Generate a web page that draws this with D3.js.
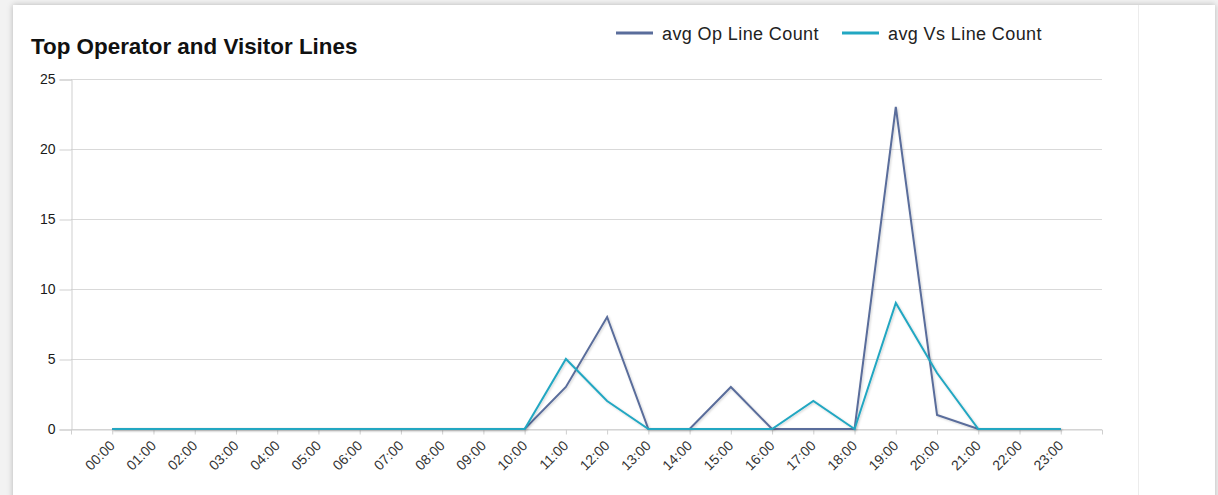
<!DOCTYPE html>
<html>
<head>
<meta charset="utf-8">
<script src="https://cdn.jsdelivr.net/npm/d3@7"></script>
<style>
  html, body { margin: 0; padding: 0; background: #f2f2f2; overflow: hidden; }
  #panel {
    position: absolute; left: 13px; top: 5px; width: 1202px; height: 520px;
    background: #fff; box-shadow: 0 0 6px rgba(0,0,0,0.25);
  }
  #chart { position: absolute; left: 0; top: 0; }
</style>
</head>
<body>
<div id="panel"></div>
<div id="chart"></div>
<script>
const hours = ["00:00","01:00","02:00","03:00","04:00","05:00","06:00","07:00","08:00","09:00","10:00","11:00",
               "12:00","13:00","14:00","15:00","16:00","17:00","18:00","19:00","20:00","21:00","22:00","23:00"];
const opCounts = [0,0,0,0,0,0,0,0,0,0,0,3,8,0,0,3,0,0,0,23,1,0,0,0];
const vsCounts = [0,0,0,0,0,0,0,0,0,0,0,5,2,0,0,0,0,2,0,9,4,0,0,0];
const yTicks = [0,5,10,15,20,25];
const seriesNames = ["avg Op Line Count", "avg Vs Line Count"];
const seriesColors = ["#5a6d9b", "#22a7c2"];

const W = 1218, H = 495;
const plot = { left: 71, right: 1102, top: 79, bottom: 429 };

const svg = d3.select("#chart").append("svg")
    .attr("width", W)
    .attr("height", H)
    .style("font-family", "'Liberation Sans', Arial, sans-serif");

// faint divider on the right of the panel
svg.append("line")
    .attr("x1", 1138.5).attr("x2", 1138.5)
    .attr("y1", 5).attr("y2", H)
    .attr("stroke", "#ececec");

const defs = svg.append("defs");
const f = defs.append("filter").attr("id", "shadow")
    .attr("x", "-5%").attr("y", "-5%").attr("width", "110%").attr("height", "110%");
f.append("feDropShadow").attr("dx", 1).attr("dy", 1).attr("stdDeviation", 0.8)
    .attr("flood-color", "#000").attr("flood-opacity", 0.18);

const x = d3.scalePoint()
    .domain(hours)
    .range([plot.left, plot.right])
    .padding(1);

const y = d3.scaleLinear()
    .domain([0, 25])
    .range([plot.bottom, plot.top]);

// gridlines
svg.append("g")
    .selectAll("line")
    .data(yTicks)
    .enter().append("line")
    .attr("x1", plot.left).attr("x2", plot.right)
    .attr("y1", d => Math.round(y(d)) + 0.5)
    .attr("y2", d => Math.round(y(d)) + 0.5)
    .attr("stroke", "#d9d9d9");

// y axis
const yAxis = svg.append("g")
    .attr("transform", `translate(${plot.left + 0.5},0.5)`)
    .call(d3.axisLeft(y).tickValues(yTicks).tickSize(12).tickPadding(4).tickFormat(d3.format("d")));
yAxis.select(".domain").attr("stroke", "#cfcfcf");
yAxis.selectAll(".tick line").attr("stroke", "#cfcfcf");
yAxis.selectAll("text")
    .attr("fill", "#1a1a1a")
    .style("font-size", "14px");

// x axis
const xAxis = svg.append("g")
    .attr("transform", `translate(0,${plot.bottom + 0.5})`)
    .call(d3.axisBottom(x).tickSize(5).tickSizeOuter(5));
xAxis.select(".domain").attr("stroke", "#cfcfcf");
xAxis.selectAll(".tick line").attr("stroke", "#cfcfcf");
xAxis.selectAll("text")
    .attr("fill", "#333")
    .style("font-size", "14px")
    .style("text-anchor", "end")
    .attr("x", 0)
    .attr("y", 0)
    .attr("dy", 0)
    .attr("transform", "translate(3,17) rotate(-45)");

// lines
const line = d3.line()
    .x((d, i) => x(hours[i]))
    .y(d => y(d));

[opCounts, vsCounts].forEach((vals, k) => {
    svg.append("path")
        .datum(vals)
        .attr("fill", "none")
        .attr("stroke", seriesColors[k])
        .attr("stroke-width", 2)
        .attr("stroke-linejoin", "miter")
        .attr("filter", "url(#shadow)")
        .attr("d", line);
});

// title
svg.append("text")
    .attr("x", 31)
    .attr("y", 54)
    .attr("fill", "#111")
    .style("font-size", "22.4px")
    .style("font-weight", "bold")
    .text("Top Operator and Visitor Lines");

// legend
const legendX = [616, 842];
const legend = svg.append("g");
seriesNames.forEach((name, k) => {
    legend.append("line")
        .attr("x1", legendX[k]).attr("x2", legendX[k] + 37)
        .attr("y1", 33).attr("y2", 33)
        .attr("stroke", seriesColors[k])
        .attr("stroke-width", 3);
    legend.append("text")
        .attr("x", legendX[k] + 46)
        .attr("y", 40)
        .attr("fill", "#222")
        .style("font-size", "18px")
        .style("letter-spacing", "0.4px")
        .text(name);
});
</script>
</body>
</html>
